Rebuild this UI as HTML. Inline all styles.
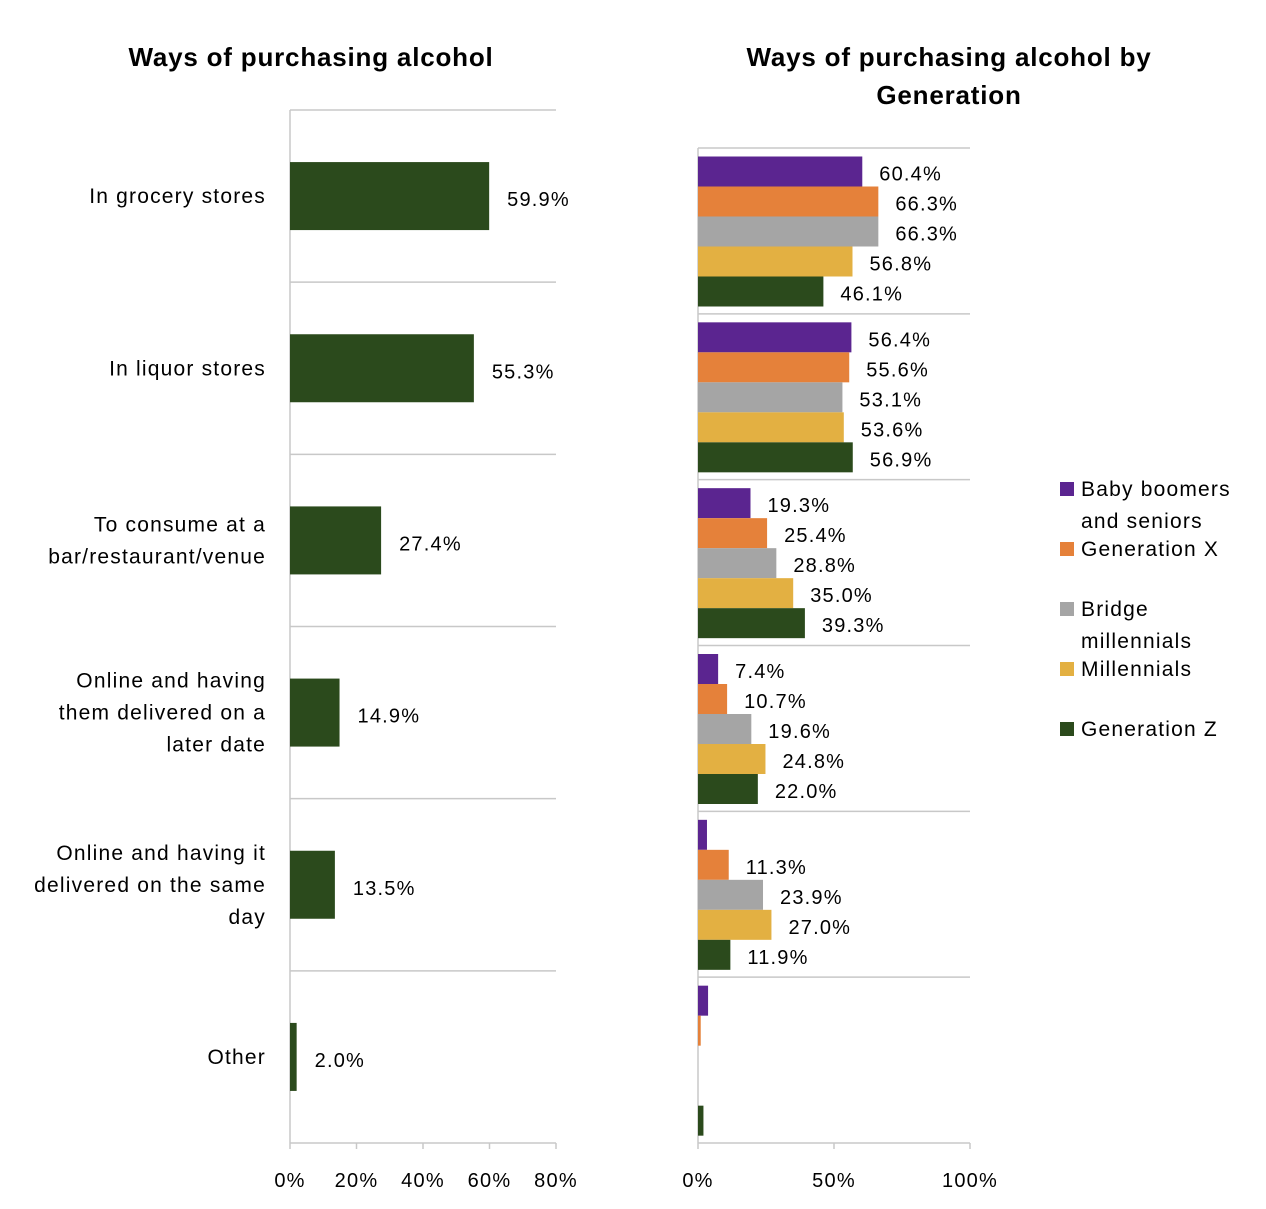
<!DOCTYPE html>
<html><head><meta charset="utf-8"><style>
body{margin:0;background:#fff;font-family:"Liberation Sans",sans-serif}
svg text{font-family:"Liberation Sans",sans-serif;fill:#000;letter-spacing:1.2px}
svg text.title{letter-spacing:0.8px}
</style></head><body>
<svg id="c" width="1266" height="1204" xmlns="http://www.w3.org/2000/svg">
<text class="title" x="311" y="66" font-size="26" font-weight="bold" text-anchor="middle">Ways of purchasing alcohol</text>
<text class="title" x="949" y="66" font-size="26" font-weight="bold" text-anchor="middle">Ways of purchasing alcohol by</text>
<text class="title" x="949" y="104" font-size="26" font-weight="bold" text-anchor="middle">Generation</text>
<g id="left"></g><g id="right"></g><g id="legend"></g>
</svg>
<script>
const categories=[["In grocery stores"],["In liquor stores"],["To consume at a","bar/restaurant/venue"],["Online and having","them delivered on a","later date"],["Online and having it","delivered on the same","day"],["Other"]];
const totals=[59.9,55.3,27.4,14.9,13.5,2.0];
const leftTicks=[0,20,40,60,80];
const generations=["Baby boomers and seniors","Generation X","Bridge millennials","Millennials","Generation Z"];
const genLegend=[["Baby boomers","and seniors"],["Generation X"],["Bridge","millennials"],["Millennials"],["Generation Z"]];
const genColors=["#5b2590","#e5813a","#a5a5a5","#e3b042","#2b4a1c"];
const boomers=[60.4,56.4,19.3,7.4,3.3,3.7];
const genX=[66.3,55.6,25.4,10.7,11.3,1.0];
const bridge=[66.3,53.1,28.8,19.6,23.9,0];
const millennials=[56.8,53.6,35.0,24.8,27.0,0];
const genZ=[46.1,56.9,39.3,22.0,11.9,2.0];
const showLabel=[[1,1,1,1,0,0],[1,1,1,1,1,0],[1,1,1,1,1,0],[1,1,1,1,1,0],[1,1,1,1,1,0]];
const rightTicks=[0,50,100];
const NS="http://www.w3.org/2000/svg";
function mk(p,t,a){const e=document.createElementNS(NS,t);for(const k in a)e.setAttribute(k,a[k]);p.appendChild(e);return e;}
const L=document.getElementById('left');
const lx0=290,lx1=556,ly0=110,ly1=1143,lmax=80;
const lxs=v=>lx0+v/lmax*(lx1-lx0);
const lband=(ly1-ly0)/categories.length;
const grid="#c8c8c8";
for(let i=0;i<=categories.length;i++){const y=ly0+i*lband;const l=mk(L,'line',{x1:lx0,x2:lx1,y1:y,y2:y,stroke:grid,'stroke-width':1.5});

}
const la=mk(L,'line',{x1:lx0,x2:lx0,y1:ly0,y2:ly1,stroke:grid,'stroke-width':1.5});


leftTicks.forEach(t=>{const x=lxs(t);mk(L,'line',{x1:x,x2:x,y1:ly1,y2:ly1+6,stroke:grid,'stroke-width':1.5});
const tx=mk(L,'text',{x:x,y:1187,'font-size':20,'text-anchor':'middle'});tx.textContent=t+'%';

});
categories.forEach((c,i)=>{const cy=ly0+(i+0.5)*lband;
const b=mk(L,'rect',{x:lx0,y:cy-34,width:lxs(totals[i])-lx0,height:68,fill:"#2b4a1c"});


const v=mk(L,'text',{x:lxs(totals[i])+18,y:cy+10,'font-size':20});v.textContent=totals[i].toFixed(1)+'%';


c.forEach((ln,j)=>{const t=mk(L,'text',{x:266,y:cy+7+(j-(c.length-1)/2)*32,'font-size':21,'text-anchor':'end'});t.textContent=ln;

});});
const R=document.getElementById('right');
const rx0=698,rx1=970,ry0=148,ry1=1143;
const rxs=v=>rx0+v/100*(rx1-rx0);
const rband=(ry1-ry0)/categories.length;
for(let i=0;i<=categories.length;i++){const y=ry0+i*rband;const l=mk(R,'line',{x1:rx0,x2:rx1,y1:y,y2:y,stroke:grid,'stroke-width':1.5});

}
const ra=mk(R,'line',{x1:rx0,x2:rx0,y1:ry0,y2:ry1,stroke:grid,'stroke-width':1.5});


rightTicks.forEach(t=>{const x=rxs(t);mk(R,'line',{x1:x,x2:x,y1:ry1,y2:ry1+6,stroke:grid,'stroke-width':1.5});
const tx=mk(R,'text',{x:x,y:1187,'font-size':20,'text-anchor':'middle'});tx.textContent=t+'%';

});
const series=[boomers,genX,bridge,millennials,genZ];
categories.forEach((c,i)=>{const top=ry0+i*rband+8.5;
series.forEach((s,g)=>{const y=top+g*30;
const b=mk(R,'rect',{x:rx0,y:y,width:rxs(s[i])-rx0,height:30,fill:genColors[g]});


if(showLabel[g][i]){const v=mk(R,'text',{x:rxs(s[i])+17,y:y+24,'font-size':20});v.textContent=s[i].toFixed(1)+'%';

}});});
const G=document.getElementById('legend');
const ly=[489,549,609,669,729];
genLegend.forEach((lines,g)=>{const r=mk(G,'rect',{x:1060,y:ly[g]-7,width:14,height:14,fill:genColors[g]});


lines.forEach((ln,j)=>{const t=mk(G,'text',{x:1081,y:ly[g]+7+j*32,'font-size':21});t.textContent=ln;

});});
</script>
</body></html>
